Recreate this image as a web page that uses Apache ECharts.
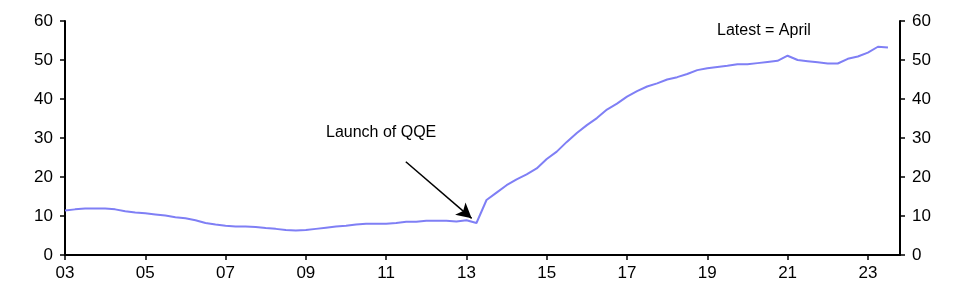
<!DOCTYPE html>
<html>
<head>
<meta charset="utf-8">
<script src="https://cdn.jsdelivr.net/npm/echarts@6/dist/echarts.min.js"></script>
<style>html,body{margin:0;padding:0;background:#fff}#c{width:964px;height:292px}</style>
</head>
<body>
<div id="c"></div>
<script>
// Quarterly series starting 2003 Q1
var startYear = 2003;
var values = [
  11.4, 11.7, 11.9, 11.9, 11.9, 11.7, 11.2, 10.9,
  10.7, 10.4, 10.1, 9.7, 9.4, 8.9, 8.2, 7.8,
  7.5, 7.3, 7.3, 7.2, 6.9, 6.7, 6.4, 6.3,
  6.4, 6.7, 7.0, 7.3, 7.5, 7.8, 8.0, 8.0,
  8.0, 8.2, 8.5, 8.5, 8.8, 8.8, 8.8, 8.6,
  8.9, 8.2, 14.1, 16.0, 17.9, 19.4, 20.7, 22.2,
  24.6, 26.5, 29.0, 31.3, 33.3, 35.1, 37.3, 38.8,
  40.6, 42.0, 43.2, 44.0, 45.0, 45.6, 46.4, 47.4,
  47.9, 48.2, 48.5, 48.9, 48.9, 49.2, 49.5, 49.8,
  51.1, 50.0, 49.7, 49.4, 49.1, 49.1, 50.3, 50.9,
  51.9, 53.4, 53.2
];
var xTickYears = [2003, 2005, 2007, 2009, 2011, 2013, 2015, 2017, 2019, 2021, 2023];
var yTicks = [0, 10, 20, 30, 40, 50, 60];
var arrowFrom = [2011.49, 23.9];
var arrowTo = [2013.13, 9.4];

var seriesData = values.map(function (v, i) { return [startYear + i * 0.25, v]; });

var font = 'Liberation Sans, Arial, sans-serif';
var chart = echarts.init(document.getElementById('c'));
var yAxisCommon = {
  type: 'value', min: 0, max: 60, interval: 10,
  splitLine: { show: false },
  axisLine: { show: true, lineStyle: { color: '#000', width: 2 } },
  axisTick: { show: true, length: 5, lineStyle: { color: '#000', width: 1.5 } },
  axisLabel: { color: '#000', fontSize: 17, fontFamily: font, margin: 12 }
};
chart.setOption({
  animation: false,
  grid: { left: 65, right: 64, top: 21, bottom: 37 },
  xAxis: {
    type: 'value', min: 2003, max: 2023.8,
    splitLine: { show: false },
    axisLine: { show: true, onZero: false, lineStyle: { color: '#000', width: 2 } },
    axisTick: { show: true, length: 5, customValues: xTickYears, lineStyle: { color: '#000', width: 1.5 } },
    axisLabel: {
      color: '#000', fontSize: 17, fontFamily: font, margin: 10,
      customValues: xTickYears,
      formatter: function (v) { var y = Math.round(v) % 100; return (y < 10 ? '0' : '') + y; }
    }
  },
  yAxis: [
    Object.assign({}, yAxisCommon, { position: 'left' }),
    Object.assign({}, yAxisCommon, { position: 'right' })
  ],
  series: [{
    type: 'line',
    data: seriesData,
    showSymbol: false,
    smooth: false,
    lineStyle: { color: '#7f7ff5', width: 2 },
    markLine: {
      silent: true,
      symbol: ['none', 'arrow'],
      symbolSize: [12, 15],
      label: { show: false },
      lineStyle: { color: '#000', width: 1.5, type: 'solid' },
      data: [[{ coord: arrowFrom }, { coord: arrowTo }]]
    }
  }],
  graphic: [
    { type: 'text', left: 717, top: 23, style: { text: 'Latest = April', fill: '#000', font: '16px ' + font } },
    { type: 'text', left: 326, top: 125, style: { text: 'Launch of QQE', fill: '#000', font: '16px ' + font } }
  ]
});
</script>
</body>
</html>
